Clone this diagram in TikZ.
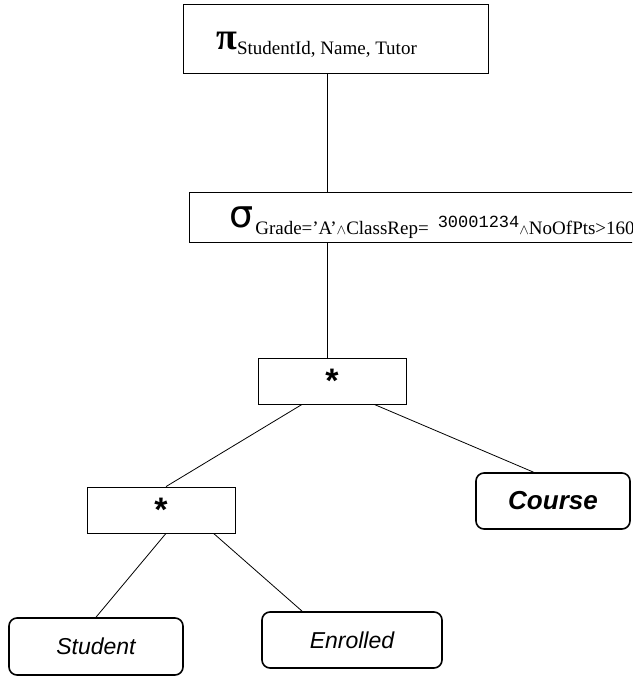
\documentclass[tikz,border=0pt]{standalone}
\usepackage{fontspec}
\setmainfont{Liberation Serif}
\newfontfamily\arialfont{Liberation Sans}
\newfontfamily\courierfont{Liberation Mono}
\newfontfamily\symbolfont{DejaVu Sans}

\begin{document}
\begin{tikzpicture}[x=1pt, y=-1pt,
    opbox/.style={draw, line width=0.8pt, inner sep=0pt},
    joinop/.style={opbox, minimum width=148pt, minimum height=46pt,
      font=\arialfont\bfseries\fontsize{34}{34}\selectfont},
    relbox/.style={draw, line width=1.6pt, rounded corners=8pt, inner sep=0pt,
      font=\arialfont\itshape\fontsize{23}{23}\selectfont},
    link/.style={line width=0.8pt}]
  \useasboundingbox (0,0) rectangle (632,676);
  \clip (0,0) rectangle (632,676);

  % operators
  \node[opbox, minimum width=305pt, minimum height=69pt] (proj) at (335.5,38.5) {};
  \node[anchor=base west, inner sep=0pt] (projtext) at (216,50)
    {{\bfseries\fontsize{38}{38}\selectfont π}\raisebox{-5pt}{\fontsize{19}{19}\selectfont StudentId, Name, Tutor}};

  \node[opbox, minimum width=511pt, minimum height=50pt] (sel) at (444.5,217) {};
  \node[anchor=base west, inner sep=0pt] (seltext) at (229,227)
    {{\symbolfont\fontsize{38}{38}\selectfont σ}\hspace{2pt}\raisebox{-7pt}{\fontsize{19}{19}\selectfont Grade=’A’$\scriptstyle\wedge$ClassRep=\hspace{9pt}}{\courierfont\fontsize{17}{17}\selectfont 30001234}\raisebox{-7pt}{\fontsize{19}{19}\selectfont $\scriptstyle\wedge$NoOfPts>160}};

  \node[joinop] (join1) at (332,381) {*};
  \node[joinop] (join2) at (161,510) {*};

  % relations
  \node[relbox, minimum width=174pt, minimum height=57pt] (student) at (96,646.5) {Student};
  \node[relbox, minimum width=180pt, minimum height=56pt] (enrolled) at (352,640) {Enrolled};
  \node[relbox, minimum width=154pt, minimum height=56pt,
    font=\arialfont\bfseries\itshape\fontsize{26}{26}\selectfont] (course) at (553,501) {Course};

  % tree edges
  \coordinate (stem) at (327,0);
  \draw[link] (proj.south -| stem) -- (sel.north -| stem);
  \draw[link] (sel.south -| stem) -- (join1.north -| stem);
  \draw[link] (join1.218) -- (join2.78);
  \draw[link] (join1.331) -- (course.124);
  \draw[link] (join2.282) -- (student.north);
  \draw[link] (join2.336) -- (enrolled.150);
\end{tikzpicture}
\end{document}
